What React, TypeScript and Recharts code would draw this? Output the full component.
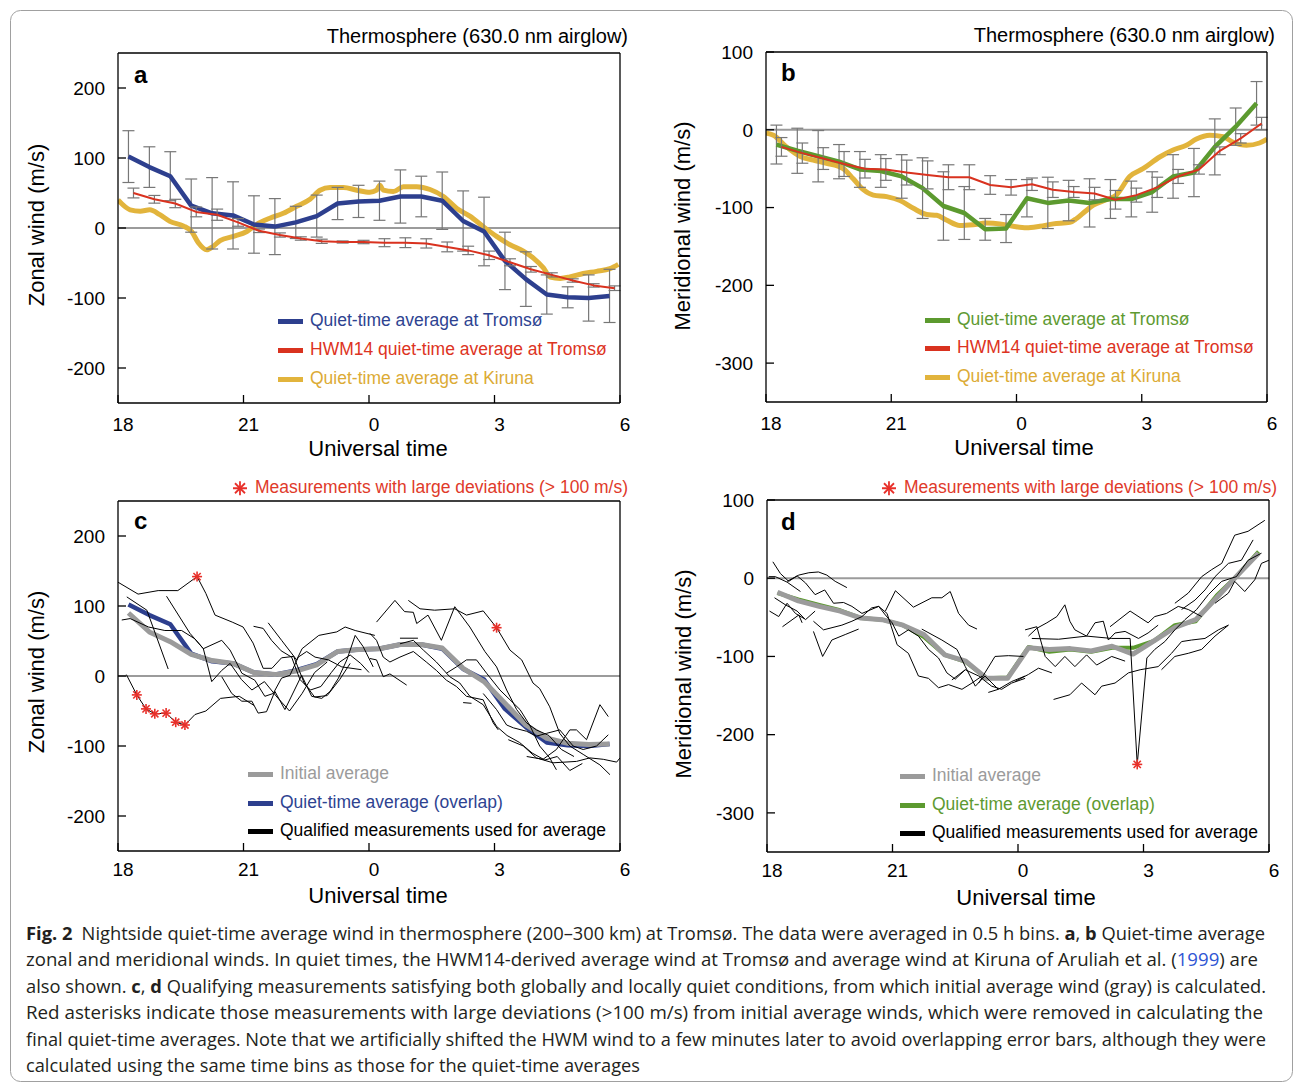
import React from 'react';
import { ComposedChart, Line, Scatter, XAxis, YAxis, ReferenceLine, ErrorBar } from 'recharts';

const FONT = '"Liberation Sans", Arial, Helvetica, sans-serif';
const BLUE = '#2d3f8e';
const RED = '#d9321f';
const YELLOW = '#e2b43c';
const GREEN = '#5c9a2f';
const GRAY = '#9b9b9b';

// time axis: hours after 18 UT (24 = 0 UT, 30 = 6 UT)
const hourTicks = [18, 21, 24, 27, 30];
const bins = [18.25, 18.75, 19.25, 19.75, 20.25, 20.75, 21.25, 21.75, 22.25, 22.75, 23.25, 23.75,
  24.25, 24.75, 25.25, 25.75, 26.25, 26.75, 27.25, 27.75, 28.25, 28.75, 29.25, 29.75];
const hwmHours = [18.37, 18.87, 19.37, 19.87, 20.37, 20.87, 21.37, 21.87, 22.37, 22.87, 23.37, 23.87,
  24.37, 24.87, 25.37, 25.87, 26.37, 26.87, 27.37, 27.87, 28.37, 28.87, 29.37, 29.87];

// panel a - zonal
const zonalTromso = [102, 87, 74, 32, 21, 18, 5, 2, 8, 17, 35, 38, 39, 45, 45, 39, 10, -5, -47, -73, -95, -99, -100, -97];
const zonalTromsoErr = [37, 29, 35, 38, 51, 48, 41, 40, 23, 30, 23, 23, 28, 38, 29, 41, 43, 49, 41, 39, 28, 15, 33, 38];
const zonalHwm = [50, 41, 35, 23, 19, 8, -4, -10, -15, -19, -20, -20, -21, -21, -22, -27, -32, -39, -49, -59, -67, -75, -82, -86];
const zonalHwmErr = [7, 5.5, 6, 7, 8, 5.5, 2.5, 3, 2.4, 3, 1.5, 2.4, 5.7, 7, 6.6, 7, 6, 6, 5, 4, 3, 2.4, 2.4, 3.3];
const zonalKiruna = [[18.0, 40], [18.29, 26], [18.53, 24], [18.76, 26], [19.0, 19], [19.24, 9.5], [19.56, 3], [19.76, -5],
  [19.92, -21], [20.12, -31], [20.28, -26], [20.44, -18], [20.76, -12], [21.08, -5], [21.31, 5], [21.63, 14], [21.95, 21],
  [22.27, 31], [22.59, 41], [22.83, 54], [23.07, 58], [23.39, 58], [23.71, 54], [24.02, 51], [24.18, 54], [24.26, 61],
  [24.34, 54], [24.58, 52], [24.82, 59], [25.14, 59], [25.46, 55], [25.78, 45], [26.1, 28], [26.41, 17], [26.73, 2],
  [27.05, -12], [27.37, -24], [27.69, -33], [27.93, -43], [28.17, -57], [28.33, -70], [28.57, -72], [28.8, -70],
  [29.12, -65], [29.44, -62], [29.76, -58], [29.96, -52]];

// panel b - meridional
const meridTromso = [-19, -27, -34, -41, -51, -53, -60, -75, -98, -107, -128, -127, -88, -94, -91, -94, -89, -89, -80, -60, -55, -22, 4, 34];
const meridTromsoErr = [25, 29, 33, 22, 23, 21, 28, 39, 44, 34, 14, 18, 24, 33, 26, 31, 25, 23, 26, 28, 31, 36, 24, 28];
const meridHwm = [-22, -30, -37, -44, -50, -51, -55, -58, -61, -61, -71, -74, -70, -77, -80, -82, -90, -84, -74, -60, -51, -27, -11, 8];
const meridHwmErr = [12, 13, 14, 16, 12, 14, 16, 18, 16, 16, 12, 10, 8, 10, 7, 8, 12, 9, 13, 9, 6, 5, 6, 8];
const meridKiruna = [[18.0, -4], [18.18, -7], [18.49, -22], [18.81, -34], [19.13, -39], [19.45, -43], [19.85, -50],
  [20.09, -63], [20.33, -77], [20.57, -84], [20.89, -86], [21.21, -91], [21.53, -101], [21.85, -109], [22.09, -110],
  [22.32, -116], [22.64, -123], [22.96, -122], [23.28, -120], [23.6, -121], [23.92, -124], [24.24, -126], [24.56, -124],
  [24.88, -121], [25.28, -119], [25.44, -114], [25.6, -107], [25.84, -97], [26.15, -90], [26.39, -84], [26.71, -60],
  [27.03, -50], [27.43, -35], [27.75, -26], [28.07, -20], [28.31, -12], [28.63, -7], [28.95, -9], [29.19, -16],
  [29.51, -20], [29.82, -17], [30.0, -12]];

// panel c - initial zonal average, individual nights, outliers
const zonalInitial = [90, 63, 49, 31, 22, 18, 5, 2, 7, 16, 35, 38, 39, 45, 45, 40, 11, -8, -39, -70, -89, -96, -98, -97];
const zonalNights = [
  [[18.2, 2], [18.45, -27], [18.67, -47], [18.88, -54], [19.15, -53], [19.38, -66], [19.6, -70], [19.84, -55], [20.1, -50], [20.45, -32], [20.9, -29], [21.25, -42]],
  [[18.0, 134], [18.48, 117], [18.96, 122], [19.43, 122], [19.89, 142], [20.1, 118], [20.32, 87], [20.73, 77], [20.99, 70], [21.23, 47], [21.47, 11], [21.68, 11], [21.91, 26], [22.2, 28], [22.45, -10], [22.7, -30], [23.0, -28], [23.3, -5], [23.55, 18]],
  [[18.21, 113], [18.69, 94], [19.2, 10]],
  [[19.16, 114], [19.72, 61], [20.04, 39], [20.24, -8], [20.48, 8], [20.68, 18], [20.95, -5], [21.2, -20], [21.5, -8], [21.8, -30], [22.1, -50], [22.4, -25], [22.7, 5], [23.0, 20]],
  [[18.09, 80], [18.29, 82], [18.73, 70], [19.12, 65], [19.52, 65], [19.84, 53], [20.04, 39], [20.48, 51], [20.68, 37], [20.96, 4], [21.27, -6], [21.51, -29], [21.71, -25], [21.91, -3], [22.11, 1], [22.31, 27], [22.51, 35], [22.71, 27], [23.03, 23], [23.35, 13], [23.82, 9]],
  [[21.24, 71], [21.47, 68], [21.67, 51], [21.9, 36], [22.15, 27], [22.35, -5], [22.6, -20], [22.85, -15], [23.1, 5], [23.3, 20], [23.55, 30], [23.8, 18], [24.0, 5]],
  [[21.59, 76], [21.91, 51], [22.27, 23], [22.4, 39], [22.8, 58], [23.23, 63], [23.43, 70], [23.67, 65], [24.14, 58]],
  [[20.48, -1], [20.72, -25], [20.96, -36], [21.2, -36], [21.35, -53], [21.55, -51], [21.75, -22], [21.99, -48], [22.39, 1], [22.63, -29], [22.87, -32], [23.07, -22], [23.27, -3], [23.47, 23], [23.67, 58], [23.86, 42], [24.1, 13]],
  [[24.18, 77], [24.62, 108], [24.85, 92], [25.06, 91], [25.14, 75], [25.41, 87], [25.73, 51], [26.05, 99], [26.41, 70], [26.77, 35], [27.05, 13], [27.29, -20], [27.53, -48], [27.77, -67], [28.0, -77], [28.3, -85], [28.6, -105], [28.9, -115]],
  [[24.94, 108], [25.22, 96], [25.57, 94], [26.05, 96], [26.33, 87], [26.73, 93], [27.05, 69], [27.37, 37], [27.65, 23], [27.92, -10], [28.08, -18], [28.32, -44], [28.56, -82], [28.8, -100], [29.12, -112], [29.52, -127], [29.76, -141]],
  [[24.02, 61], [24.18, 51], [24.34, 27], [24.5, 20], [24.74, 27], [25.06, 35], [25.37, 20], [25.61, 8], [25.85, -6], [26.09, -15], [26.33, -29], [26.73, -34], [26.97, -67], [27.09, -77]],
  [[24.02, 25], [24.18, 23], [24.34, -1], [24.5, 3], [24.9, -13]],
  [[24.74, 46], [25.06, 51], [25.3, 37], [25.61, 20], [25.93, -1], [26.17, -10], [26.41, -29], [26.73, -41], [27.05, -72], [27.3, -85], [27.6, -95], [27.9, -110], [28.2, -120], [28.5, -115], [28.8, -135], [29.1, -125]],
  [[25.85, 4], [26.09, 13], [26.33, 23], [26.57, 23], [26.81, 4], [27.13, -20], [27.37, -34], [27.61, -48], [27.84, -70], [28.08, -100], [28.32, -117], [28.48, -134]],
  [[26.73, -25], [27.05, -48], [27.29, -70], [27.45, -74], [27.77, -79], [28.0, -86], [28.24, -82], [28.56, -77], [28.88, -100], [29.12, -105], [29.44, -100], [29.72, -84]],
  [[27.77, -115], [28.16, -119], [28.48, -105], [28.8, -77], [28.96, -77], [29.2, -91], [29.52, -41], [29.72, -58]],
  [[27.33, -91], [27.69, -100], [28.0, -117], [28.4, -124], [28.96, -122], [29.28, -117], [29.6, -119], [29.92, -123], [30.0, -117]],
  [[24.74, 54], [25.17, 54]],
  [[26.25, -38], [26.45, -39]],
];
const zonalOutliers = [[18.45, -27], [18.67, -47], [18.88, -54], [19.15, -53], [19.38, -66], [19.6, -70], [19.89, 142], [27.05, 69]];

// panel d - initial meridional average, individual nights, outliers
const meridInitial = [-18, -29, -36, -42, -51, -53, -60, -72, -98, -106, -128, -128, -89, -91, -90, -93, -87, -97, -80, -63, -53, -25, 4, 32];
const meridNights = [
  [[18.14, 21], [18.32, 6], [18.52, -4], [18.72, 3], [18.92, -6], [19.15, -21], [19.38, -15], [19.59, -32], [19.83, -31], [20.03, -36], [20.27, -45], [20.67, -36], [20.87, -45], [21.11, -85], [21.38, -96], [21.62, -125], [21.86, -128], [22.1, -140], [22.34, -136], [22.66, -142], [22.9, -134], [23.14, -125]],
  [[18.04, 2], [18.2, 2], [18.48, -5], [18.8, -17]],
  [[18.48, -4], [18.76, 4], [19.0, 7], [19.23, 8], [19.43, 4], [19.63, -4], [19.91, -12]],
  [[18.18, -25], [18.44, -34], [18.72, -42], [18.92, -53], [19.15, -42]],
  [[18.06, -42], [18.28, -49], [18.48, -32], [18.68, -45], [18.9, -52]],
  [[18.37, -62], [18.76, -47], [18.84, -57]],
  [[19.11, -55], [19.35, -66], [19.79, -60], [20.03, -55], [20.27, -49], [20.5, -38], [20.67, -36], [20.83, -47], [20.99, -57], [21.15, -74], [21.38, -66], [21.62, -74], [21.86, -91], [22.1, -102], [22.3, -121], [22.5, -129], [22.74, -117]],
  [[19.11, -68], [19.33, -100], [19.55, -79], [19.87, -72], [20.19, -65]],
  [[20.83, -42], [21.07, -16], [21.5, -37], [21.94, -25], [22.18, -25], [22.38, -17], [22.58, -45], [22.82, -60], [23.02, -65]],
  [[21.7, -65], [22.18, -79], [22.54, -91], [22.74, -113], [22.98, -138], [23.21, -125], [23.53, -142]],
  [[22.42, -130], [22.74, -117], [23.06, -125], [23.37, -138], [23.61, -142], [23.85, -134], [24.17, -128]],
  [[23.06, -134], [23.45, -100], [23.77, -99], [24.13, -100]],
  [[23.29, -146], [23.53, -142], [23.85, -132], [24.17, -125]],
  [[24.17, -66], [24.45, -62], [24.65, -100], [24.89, -113], [25.12, -100], [25.36, -113], [25.64, -98], [25.88, -111], [26.24, -100], [26.56, -106]],
  [[24.25, -74], [24.45, -64], [24.69, -57], [24.93, -49], [25.12, -34], [25.24, -55], [25.36, -66], [25.64, -74], [25.84, -57], [26.04, -55], [26.16, -79], [26.32, -70], [26.56, -68], [26.88, -77], [27.11, -70], [27.35, -60]],
  [[23.93, -132], [24.25, -123], [24.49, -115], [24.81, -121]],
  [[24.33, -77], [24.97, -78], [25.64, -74], [26.24, -77], [26.68, -77], [26.85, -238], [27.08, -102], [27.27, -91], [27.51, -81], [27.75, -66], [27.99, -53], [28.27, -40], [28.55, -21], [28.87, -4], [29.22, 2], [29.5, 23], [29.82, 32]],
  [[24.85, -155], [25.24, -149], [25.52, -134], [25.84, -149], [26.0, -138], [26.32, -134], [26.64, -121], [26.92, -117], [27.35, -113], [27.67, -96], [27.91, -81], [28.15, -79], [28.47, -77], [28.79, -66], [29.03, -60]],
  [[26.2, -62], [26.68, -42], [27.11, -57], [27.27, -49], [27.55, -45], [27.83, -36], [28.07, -40], [28.39, -49]],
  [[27.75, -32], [28.07, -19], [28.39, 2], [28.63, 11], [28.87, 19], [29.18, 55], [29.5, 60], [29.9, 74]],
  [[27.91, -40], [28.23, -28], [28.47, -15], [28.71, 2], [29.03, 19], [29.34, 23], [29.62, 49]],
  [[28.71, -32], [29.03, -19], [29.18, -4], [29.42, -17], [29.66, -2], [29.82, 19], [30.0, 23]],
  [[27.43, -117], [27.75, -100], [28.07, -96], [28.39, -91], [28.71, -74], [29.03, -60]],
];
const meridOutliers = [[26.85, -238]];

const series = (xs: number[], ys: number[], es?: number[]) => xs.map((x, i) => ({ x, y: ys[i], e: es ? es[i] : 0 }));
const pts = (p: number[][]) => p.map(([x, y]) => ({ x, y }));

const Asterisk = (props: any) => {
  const { cx, cy } = props;
  const r = 5;
  const d = 3.6;
  return (
    <g stroke="#e8302a" strokeWidth={1.6}>
      <line x1={cx - r} y1={cy} x2={cx + r} y2={cy} />
      <line x1={cx} y1={cy - r} x2={cx} y2={cy + r} />
      <line x1={cx - d} y1={cy - d} x2={cx + d} y2={cy + d} />
      <line x1={cx - d} y1={cy + d} x2={cx + d} y2={cy - d} />
    </g>
  );
};

interface Box { left: number; top: number; width: number; height: number; x0: number; y0: number; x1: number; y1: number; tm: number }

const tickStyle = { fontSize: 19, fill: '#000', fontFamily: FONT };
const axisStroke = { stroke: '#000', strokeWidth: 1.3 };

function Panel({ box, yDomain, yTicks, children }: { box: Box; yDomain: number[]; yTicks: number[]; children: React.ReactNode }) {
  return (
    <div style={{ position: 'absolute', left: box.left, top: box.top }}>
      <ComposedChart
        width={box.width}
        height={box.height}
        margin={{ top: box.y0 - box.top - 1, right: box.left + box.width - box.x1 - 1, bottom: 0, left: 0 }}
      >
        <XAxis xAxisId={0} dataKey="x" type="number" domain={[18, 30]} ticks={hourTicks} allowDataOverflow
          tickFormatter={(h: number) => String(h % 24)} height={box.top + box.height - box.y1}
          tickSize={-8} tickMargin={box.tm} tick={{ ...tickStyle, dx: 5 }} axisLine={axisStroke} tickLine={axisStroke} />
        <XAxis xAxisId="t" orientation="top" dataKey="x" type="number" domain={[18, 30]} ticks={hourTicks} allowDataOverflow
          height={1} tickSize={-8} tick={false} axisLine={axisStroke} tickLine={axisStroke} />
        <YAxis yAxisId={0} type="number" domain={yDomain} ticks={yTicks} allowDataOverflow width={box.x0 - box.left}
          tickSize={-8} tickMargin={21} tick={tickStyle} axisLine={axisStroke} tickLine={axisStroke} />
        <YAxis yAxisId="r" orientation="right" type="number" domain={yDomain} ticks={yTicks} allowDataOverflow width={1}
          tickSize={-8} tick={false} axisLine={axisStroke} tickLine={axisStroke} />
        <ReferenceLine y={0} stroke={GRAY} strokeWidth={2} />
        {children}
      </ComposedChart>
    </div>
  );
}

function Txt({ x, y, anchor = 'left', size = 17.5, color = '#000', bold = false, rotate = false, children }:
  { x: number; y: number; anchor?: 'left' | 'center' | 'right'; size?: number; color?: string; bold?: boolean; rotate?: boolean; children: React.ReactNode }) {
  const tx = anchor === 'left' ? '0' : anchor === 'center' ? '-50%' : '-100%';
  return (
    <div style={{
      position: 'absolute', left: x, top: y, transform: `translate(${tx}, -50%)${rotate ? ' rotate(-90deg)' : ''}`,
      fontFamily: FONT, fontSize: size, color, fontWeight: bold ? 700 : 400, whiteSpace: 'nowrap', lineHeight: 1,
      display: 'flex', alignItems: 'center',
    }}>{children}</div>
  );
}

function LegendRows({ x, ys, items }: { x: number; ys: number[]; items: { label: string; color: string; text: string }[] }) {
  return (
    <>
      {items.map((it, i) => (
        <React.Fragment key={it.label}>
          <div style={{ position: 'absolute', left: x, top: ys[i] - 2.5, width: 25, height: 5, background: it.color }} />
          <Txt x={x + 32} y={ys[i]} color={it.text}>{it.label}</Txt>
        </React.Fragment>
      ))}
    </>
  );
}

const StarIcon = () => (
  <svg width={16} height={16} style={{ marginRight: 7 }}>
    <g stroke="#e8302a" strokeWidth={1.8}>
      <line x1={1} y1={8} x2={15} y2={8} />
      <line x1={8} y1={1} x2={8} y2={15} />
      <line x1={3} y1={3} x2={13} y2={13} />
      <line x1={3} y1={13} x2={13} y2={3} />
    </g>
  </svg>
);

const boxA: Box = { left: 0, top: 0, width: 640, height: 440, x0: 118, y0: 53, x1: 620, y1: 403, tm: 23 };
const boxB: Box = { left: 650, top: 0, width: 630, height: 440, x0: 766, y0: 52, x1: 1267, y1: 402, tm: 23 };
const boxC: Box = { left: 0, top: 447, width: 640, height: 440, x0: 118, y0: 501, x1: 620, y1: 851, tm: 20 };
const boxD: Box = { left: 650, top: 447, width: 630, height: 440, x0: 767, y0: 500, x1: 1269, y1: 852, tm: 20 };

const thin = { dot: false, isAnimationActive: false, type: 'linear' as const, strokeLinejoin: 'round' as const };
const errStyle = { width: 6, stroke: '#777', strokeWidth: 1.2, direction: 'y' as const };

const captionLines = [
  { y: 940, w: 1239 },
  { y: 966, w: 1232 },
  { y: 993, w: 1240 },
  { y: 1019, w: 1237 },
  { y: 1046, w: 1240 },
  { y: 1072, w: 614 },
];

export default function App() {
  return (
    <div style={{ position: 'absolute', left: 0, top: 0, width: 1295, height: 1084, background: '#fff' }}>
      <svg width={1295} height={1084} style={{ position: 'absolute', left: 0, top: 0 }}>
        <rect x={10.5} y={10.5} width={1282} height={1071} rx={10} fill="none" stroke="#a0a0a0" />
        <g fontFamily='"Open Sans", "Noto Sans", sans-serif' fontSize={17.5} fill="#231f20">
          <text x={26} y={captionLines[0].y} textLength={captionLines[0].w} lengthAdjust="spacingAndGlyphs">
            <tspan fontWeight={700}>Fig. 2</tspan>{'\u2002'}Nightside quiet-time average wind in thermosphere (200–300 km) at Tromsø. The data were averaged in 0.5 h bins. <tspan fontWeight={700}>a</tspan>, <tspan fontWeight={700}>b</tspan> Quiet-time average
          </text>
          <text x={26} y={captionLines[1].y} textLength={captionLines[1].w} lengthAdjust="spacingAndGlyphs">
            zonal and meridional winds. In quiet times, the HWM14-derived average wind at Tromsø and average wind at Kiruna of Aruliah et al. (<tspan fill="#2f55d4">1999</tspan>) are
          </text>
          <text x={26} y={captionLines[2].y} textLength={captionLines[2].w} lengthAdjust="spacingAndGlyphs">
            also shown. <tspan fontWeight={700}>c</tspan>, <tspan fontWeight={700}>d</tspan> Qualifying measurements satisfying both globally and locally quiet conditions, from which initial average wind (gray) is calculated.
          </text>
          <text x={26} y={captionLines[3].y} textLength={captionLines[3].w} lengthAdjust="spacingAndGlyphs">
            Red asterisks indicate those measurements with large deviations (&gt;100 m/s) from initial average winds, which were removed in calculating the
          </text>
          <text x={26} y={captionLines[4].y} textLength={captionLines[4].w} lengthAdjust="spacingAndGlyphs">
            final quiet-time averages. Note that we artificially shifted the HWM wind to a few minutes later to avoid overlapping error bars, although they were
          </text>
          <text x={26} y={captionLines[5].y} textLength={captionLines[5].w} lengthAdjust="spacingAndGlyphs">
            calculated using the same time bins as those for the quiet-time averages
          </text>
        </g>
      </svg>

      <Panel box={boxA} yDomain={[-250, 250]} yTicks={[-200, -100, 0, 100, 200]}>
        <Line data={pts(zonalKiruna)} dataKey="y" stroke={YELLOW} strokeWidth={5} {...thin} type="monotone" />
        <Line data={series(bins, zonalTromso, zonalTromsoErr)} dataKey="y" stroke={BLUE} strokeWidth={4.5} {...thin}>
          <ErrorBar dataKey="e" {...errStyle} />
        </Line>
        <Line data={series(hwmHours, zonalHwm, zonalHwmErr)} dataKey="y" stroke={RED} strokeWidth={2} {...thin}>
          <ErrorBar dataKey="e" {...errStyle} />
        </Line>
      </Panel>

      <Panel box={boxB} yDomain={[-350, 100]} yTicks={[-300, -200, -100, 0, 100]}>
        <Line data={pts(meridKiruna)} dataKey="y" stroke={YELLOW} strokeWidth={5} {...thin} type="monotone" />
        <Line data={series(bins, meridTromso, meridTromsoErr)} dataKey="y" stroke={GREEN} strokeWidth={4.5} {...thin}>
          <ErrorBar dataKey="e" {...errStyle} />
        </Line>
        <Line data={series(hwmHours, meridHwm, meridHwmErr)} dataKey="y" stroke={RED} strokeWidth={2} {...thin}>
          <ErrorBar dataKey="e" {...errStyle} />
        </Line>
      </Panel>

      <Panel box={boxC} yDomain={[-250, 250]} yTicks={[-200, -100, 0, 100, 200]}>
        <Line data={series(bins, zonalTromso)} dataKey="y" stroke={BLUE} strokeWidth={4.5} {...thin} />
        <Line data={series(bins, zonalInitial)} dataKey="y" stroke={GRAY} strokeWidth={5} {...thin} />
        {zonalNights.map((n, i) => (
          <Line key={`c${i}`} data={pts(n)} dataKey="y" stroke="#000" strokeWidth={1} {...thin} />
        ))}
        <Scatter data={pts(zonalOutliers)} dataKey="y" shape={Asterisk} isAnimationActive={false} />
      </Panel>

      <Panel box={boxD} yDomain={[-350, 100]} yTicks={[-300, -200, -100, 0, 100]}>
        <Line data={series(bins, meridTromso)} dataKey="y" stroke={GREEN} strokeWidth={4} {...thin} />
        <Line data={series(bins, meridInitial)} dataKey="y" stroke={GRAY} strokeWidth={5} {...thin} />
        {meridNights.map((n, i) => (
          <Line key={`d${i}`} data={pts(n)} dataKey="y" stroke="#000" strokeWidth={1} {...thin} />
        ))}
        <Scatter data={pts(meridOutliers)} dataKey="y" shape={Asterisk} isAnimationActive={false} />
      </Panel>

      {/* panel a texts */}
      <Txt x={628} y={36} anchor="right" size={20}>Thermosphere (630.0 nm airglow)</Txt>
      <Txt x={134} y={75} size={24} bold>a</Txt>
      <Txt x={37} y={225} anchor="center" size={22} rotate>Zonal wind (m/s)</Txt>
      <Txt x={378} y={449} anchor="center" size={22}>Universal time</Txt>
      <LegendRows x={278} ys={[321, 350, 379]} items={[
        { label: 'Quiet-time average at Tromsø', color: BLUE, text: '#2e4391' },
        { label: 'HWM14 quiet-time average at Tromsø', color: RED, text: '#dd3322' },
        { label: 'Quiet-time average at Kiruna', color: YELLOW, text: '#dcab35' },
      ]} />

      {/* panel b texts */}
      <Txt x={1275} y={35} anchor="right" size={20}>Thermosphere (630.0 nm airglow)</Txt>
      <Txt x={781} y={73} size={24} bold>b</Txt>
      <Txt x={683} y={226} anchor="center" size={22} rotate>Meridional wind (m/s)</Txt>
      <Txt x={1024} y={448} anchor="center" size={22}>Universal time</Txt>
      <LegendRows x={925} ys={[320, 348, 377]} items={[
        { label: 'Quiet-time average at Tromsø', color: GREEN, text: '#5e9a31' },
        { label: 'HWM14 quiet-time average at Tromsø', color: RED, text: '#dd3322' },
        { label: 'Quiet-time average at Kiruna', color: YELLOW, text: '#dcab35' },
      ]} />

      {/* panel c texts */}
      <Txt x={628} y={488} anchor="right" color="#e03a2a"><StarIcon />Measurements with large deviations (&gt; 100 m/s)</Txt>
      <Txt x={134} y={521} size={24} bold>c</Txt>
      <Txt x={37} y={672} anchor="center" size={22} rotate>Zonal wind (m/s)</Txt>
      <Txt x={378} y={896} anchor="center" size={22}>Universal time</Txt>
      <LegendRows x={248} ys={[774, 803, 831]} items={[
        { label: 'Initial average', color: GRAY, text: '#9b9b9b' },
        { label: 'Quiet-time average (overlap)', color: BLUE, text: '#2e4391' },
        { label: 'Qualified measurements used for average', color: '#000', text: '#000' },
      ]} />

      {/* panel d texts */}
      <Txt x={1277} y={488} anchor="right" color="#e03a2a"><StarIcon />Measurements with large deviations (&gt; 100 m/s)</Txt>
      <Txt x={781} y={522} size={24} bold>d</Txt>
      <Txt x={684} y={674} anchor="center" size={22} rotate>Meridional wind (m/s)</Txt>
      <Txt x={1026} y={898} anchor="center" size={22}>Universal time</Txt>
      <LegendRows x={900} ys={[776, 805, 833]} items={[
        { label: 'Initial average', color: GRAY, text: '#9b9b9b' },
        { label: 'Quiet-time average (overlap)', color: GREEN, text: '#5e9a31' },
        { label: 'Qualified measurements used for average', color: '#000', text: '#000' },
      ]} />
    </div>
  );
}
